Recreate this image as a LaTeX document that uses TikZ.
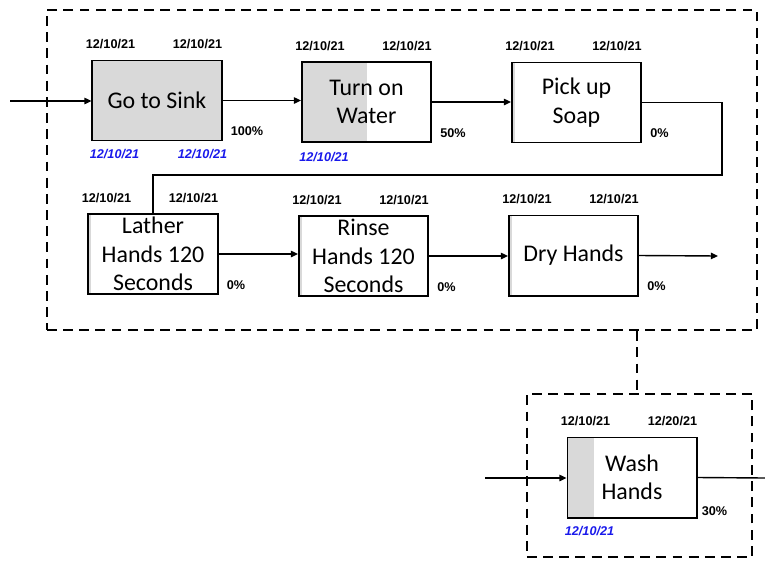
\documentclass[tikz,border=0pt]{standalone}
\usepackage{fontspec}
\setmainfont{Carlito}
\newfontfamily\lblfont{Liberation Sans}
\usepackage{tikz}
\usetikzlibrary{arrows.meta,positioning}
\definecolor{donegray}{RGB}{217,217,217}
\definecolor{planblue}{RGB}{25,25,235}

\begin{document}
\begin{tikzpicture}[
    x=0.025cm, y=-0.025cm,
    task/.style={
      rectangle, draw=black, line width=1.4pt, fill=white,
      minimum width=3.225cm, minimum height=2cm, inner sep=0pt,
      align=center, font=\fontsize{17}{20.3}\selectfont
    },
    done/.style={path picture={
      \fill[donegray] (path picture bounding box.south west)
        rectangle ([xshift=#1]path picture bounding box.north west);}},
    datelbl/.style={font=\lblfont\fontsize{9}{10}\selectfont\bfseries, inner sep=0pt},
    planlbl/.style={datelbl, font=\lblfont\fontsize{9}{10}\selectfont\bfseries\itshape, text=planblue},
    pctlbl/.style={datelbl, anchor=west},
    flow/.style={-{Triangle[length=5pt,width=4.5pt]}, line width=1pt},
    link/.style={line width=1pt},
    phase/.style={draw, dash pattern=on 7pt off 4.5pt, line width=1.6pt, inner sep=0pt}
  ]
    \useasboundingbox (0,0) rectangle (765,561);

    % Dashed phase frames
    \node[phase, minimum width=17.75cm, minimum height=8cm] (phase1) at (402,170) {};
    \node[phase, minimum width=5.625cm, minimum height=4.075cm] (phase2) at (639.5,475.5) {};
    \coordinate (tie) at (637,0);
    \draw[phase] (phase1.south -| tie) -- (phase2.north -| tie);

    % Tasks
    \node[task, done=3.225cm] (sink) at (157,100.5) {Go to Sink};
    \node[task, done=1.625cm] (water) at (366.5,102) {Turn on\\Water};
    \node[task, done=0.075cm] (soap) at (576.5,102.5) {Pick up\\Soap};
    \node[task, done=0.075cm] (lather) at (153,254) {Lather\\Hands 120\\Seconds};
    \node[task, done=0.075cm] (rinse) at (363.5,256) {Rinse\\Hands 120\\Seconds};
    \node[task, done=0.075cm] (dry) at (573.5,255.5) {Dry Hands};
    \node[task, done=0.675cm] (wash) at (632,477.5) {Wash\\Hands};

    % Start and finish dates
    \foreach \b in {sink,water,soap,lather,rinse,dry,wash}
      \node[datelbl] at ([xshift=0.475cm,yshift=0.375cm]\b.north west) {12/10/21};
    \foreach \b in {sink,water,soap,lather,rinse,dry}
      \node[datelbl] at ([xshift=-0.625cm,yshift=0.375cm]\b.north east) {12/10/21};
    \node[datelbl] at ([xshift=-0.625cm,yshift=0.375cm]wash.north east) {12/20/21};

    % Actual dates
    \node[planlbl] at ([xshift=0.575cm,yshift=-0.325cm]sink.south west) {12/10/21};
    \node[planlbl] at ([xshift=-0.5cm,yshift=-0.325cm]sink.south east) {12/10/21};
    \node[planlbl] at ([xshift=0.575cm,yshift=-0.35cm]water.south west) {12/10/21};
    \node[planlbl] at ([xshift=0.575cm,yshift=-0.325cm]wash.south west) {12/10/21};

    % Percent complete
    \foreach \b/\p in {sink/100,water/50,soap/0,lather/0,rinse/0,dry/0}
      \node[pctlbl] at ([xshift=0.2cm,yshift=0.25cm]\b.south east) {\p\%};
    \node[pctlbl] at ([xshift=0.1cm,yshift=0.18cm]wash.south east) {30\%};

    % Flow
    \coordinate (in1) at (10,101);
    \coordinate (out1) at (718,256);
    \coordinate (turn) at (722,175);
    \coordinate (in2) at (485,478);
    \coordinate (out2) at (765,478);
    \draw[flow] (in1) -- (in1 -| sink.west);
    \draw[flow] (sink.east) -- (sink.east -| water.west);
    \draw[flow] (water.east) -- (water.east -| soap.west);
    \draw[link] (soap.east) -| (turn) -| (lather.north);
    \draw[flow] (lather.east) -- (lather.east -| rinse.west);
    \draw[flow] (rinse.east) -- (rinse.east -| dry.west);
    \draw[flow] (dry.east) -- (out1);
    \draw[flow] (in2) -- (in2 -| wash.west);
    \draw[link] (wash.east) -- (out2);

  \end{tikzpicture}
\end{document}
